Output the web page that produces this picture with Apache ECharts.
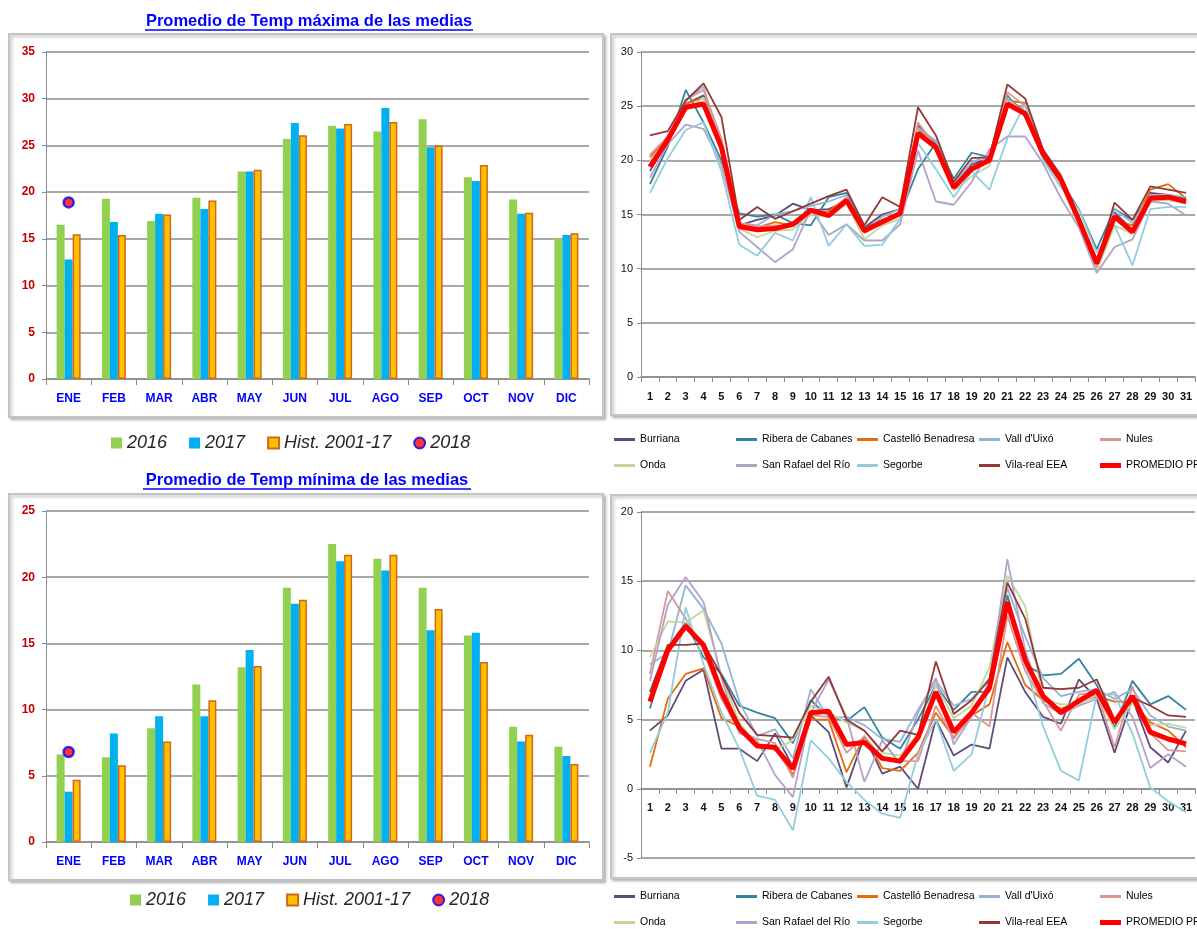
<!DOCTYPE html>
<html><head><meta charset="utf-8">
<script src="https://cdn.jsdelivr.net/npm/echarts@6/dist/echarts.min.js"></script>
<style>html,body{margin:0;padding:0;background:#fff}#c{width:1197px;height:929px}</style>
</head><body><div id="c"></div>
<script>
// ---- Monthly bar charts ----
const months = ['ENE','FEB','MAR','ABR','MAY','JUN','JUL','AGO','SEP','OCT','NOV','DIC'];
const maxT2016 = [16.5,19.3,16.9,19.4,22.2,25.7,27.1,26.5,27.8,21.6,19.2,15.0];
const maxT2017 = [12.8,16.8,17.7,18.2,22.2,27.4,26.8,29.0,24.8,21.2,17.7,15.4];
const maxHist  = [15.5,15.4,17.6,19.1,22.4,26.1,27.3,27.5,25.0,22.9,17.8,15.6];
const maxT2018 = [18.9];
const minT2016 = [6.6,6.4,8.6,11.9,13.2,19.2,22.5,21.4,19.2,15.6,8.7,7.2];
const minT2017 = [3.8,8.2,9.5,9.5,14.5,18.0,21.2,20.5,16.0,15.8,7.6,6.5];
const minHist  = [4.7,5.8,7.6,10.7,13.3,18.3,21.7,21.7,17.6,13.6,8.1,5.9];
const minT2018 = [6.8];

// ---- Daily line charts ----
const days = ['1','2','3','4','5','6','7','8','9','10','11','12','13','14','15','16','17','18','19','20','21','22','23','24','25','26','27','28','29','30','31'];
const stationNames = ['Burriana','Ribera de Cabanes','Castelló Benadresa',"Vall d'Uixó",'Nules','Onda','San Rafael del Río','Segorbe','Vila-real EEA','PROMEDIO PR.'];

const maxBurriana = [19.0,21.8,25.2,26.0,21.5,14.0,14.5,14.9,16.0,15.4,15.5,16.2,13.8,15.0,15.5,23.2,21.5,17.6,19.6,20.2,25.7,24.5,20.6,18.2,14.5,10.2,15.2,13.6,17.0,16.8,16.5];
const maxRibera   = [17.8,21.3,26.5,23.5,20.0,15.1,14.8,15.0,14.2,14.0,16.6,17.0,13.8,14.5,15.0,19.2,21.6,18.3,20.7,20.3,26.0,24.0,20.2,18.0,15.5,11.8,15.5,14.5,16.8,16.6,16.0];
const maxCastello = [20.3,22.0,25.2,25.8,21.5,14.0,13.8,14.3,14.0,15.2,15.3,16.5,13.3,14.5,15.2,23.0,21.0,17.5,19.3,20.0,25.5,25.3,20.5,18.0,14.5,10.3,14.5,14.0,17.3,17.8,16.5];
const maxVall     = [19.5,22.0,25.5,26.8,21.0,14.2,14.0,15.0,15.3,15.8,16.2,16.8,13.5,14.8,15.5,23.0,21.8,17.8,19.8,20.5,25.8,24.2,20.3,17.8,14.2,10.0,15.5,14.2,16.8,16.8,16.6];
const maxNules    = [20.5,22.2,25.6,26.5,22.0,14.2,13.9,14.0,13.9,15.3,15.0,16.6,13.5,14.4,15.0,23.5,21.3,17.3,19.0,20.1,26.3,25.0,20.7,18.1,14.3,10.0,15.0,13.5,16.7,16.7,16.3];
const maxOnda     = [20.0,21.9,24.6,25.8,21.3,13.7,12.9,13.5,13.6,15.0,14.8,16.0,12.7,14.0,14.6,22.8,21.0,17.2,18.5,19.5,25.5,24.5,20.5,17.8,14.0,9.8,14.0,13.2,16.3,16.3,16.0];
const maxSanRafael= [18.4,21.5,23.3,22.9,19.6,13.4,12.0,10.6,11.8,15.5,13.1,14.1,12.6,12.6,14.1,20.9,16.2,15.9,18.0,21.0,22.2,22.2,19.7,16.5,13.8,9.6,12.0,12.7,16.2,16.0,14.9];
const maxSegorbe  = [17.0,20.2,22.8,23.5,19.0,12.2,11.2,13.3,12.6,16.6,12.1,14.1,12.1,12.2,14.6,21.6,19.2,16.6,19.0,17.3,22.0,25.2,20.0,17.5,15.5,11.5,14.0,10.3,15.5,15.7,15.7];
const maxVilareal = [22.3,22.7,25.5,27.1,24.0,14.5,15.7,14.6,15.3,16.0,16.7,17.3,14.0,16.6,15.7,24.9,22.3,18.0,20.2,20.3,27.0,25.7,21.0,18.6,14.8,10.5,16.1,14.5,17.6,17.3,17.0];
const maxPromedio = [19.4,21.9,24.9,25.2,21.2,13.9,13.6,13.7,14.1,15.4,14.9,16.3,13.5,14.3,15.1,22.5,21.2,17.5,19.2,20.0,25.2,24.3,20.6,18.2,14.5,10.5,14.8,13.4,16.5,16.6,16.2];

const minBurriana = [4.2,5.3,7.8,8.6,2.9,2.9,2.0,4.0,1.6,5.3,4.1,0.1,3.8,1.1,1.6,0.0,5.0,2.4,3.2,2.9,9.5,7.0,5.2,4.7,7.9,6.5,2.6,6.5,3.0,1.9,4.2];
const minRibera   = [5.8,10.2,12.0,9.5,8.3,6.0,5.5,5.1,3.3,6.4,5.2,4.9,5.9,3.7,2.9,5.0,7.5,5.7,7.0,7.0,14.0,9.0,8.2,8.3,9.4,7.5,4.4,7.8,6.1,6.7,5.7];
const minCastello = [1.6,6.5,8.3,8.7,5.1,4.5,3.2,3.0,1.0,5.0,5.0,1.2,3.8,1.5,1.3,2.6,5.5,3.7,5.3,6.1,10.6,7.5,6.4,5.8,6.2,6.7,6.3,6.3,4.8,4.2,3.0];
const minVall     = [9.0,9.8,14.7,13.0,10.5,6.3,3.8,4.3,2.2,7.2,5.1,5.2,4.6,3.6,3.4,5.7,7.8,6.0,6.5,8.0,14.5,11.0,8.0,6.7,7.0,7.2,6.5,7.2,5.3,4.5,4.2];
const minNules    = [8.3,14.3,12.3,10.0,6.5,4.2,3.6,3.3,0.8,5.3,5.2,2.6,3.8,2.2,2.0,2.0,6.0,3.6,5.5,4.5,12.5,8.5,6.3,4.2,6.8,7.0,3.0,7.4,4.0,2.8,2.7];
const minOnda     = [9.5,12.1,12.0,12.9,8.2,4.8,3.1,2.8,3.5,6.0,5.5,4.8,4.2,2.6,2.4,4.0,7.5,5.1,6.0,8.8,15.4,13.2,6.5,6.1,6.1,6.8,4.3,6.2,4.6,4.7,4.4];
const minSanRafael= [7.8,13.3,15.3,13.5,8.0,4.0,3.5,1.0,-0.6,5.5,7.9,5.2,0.5,3.5,1.8,5.5,8.0,3.2,5.2,7.8,16.6,10.0,6.2,5.4,6.0,6.5,7.0,5.2,1.5,2.5,1.6];
const minSegorbe  = [2.6,5.5,13.1,9.0,5.5,2.9,-0.5,-0.8,-3.0,3.5,2.2,0.5,-0.8,-1.8,-2.1,2.5,5.0,1.3,2.5,7.5,13.0,9.0,4.5,1.3,0.6,6.8,6.8,4.0,0.1,-0.9,-1.7];
const minVilareal = [7.0,10.4,10.4,10.5,8.2,5.5,3.9,3.8,3.7,6.3,8.1,5.0,4.2,2.7,4.2,3.9,9.2,5.4,6.4,7.9,14.9,12.3,7.3,7.2,7.3,7.9,5.0,6.6,6.0,5.3,5.2];
const minPromedio = [6.3,10.0,11.75,10.4,7.0,4.4,3.1,3.0,1.45,5.5,5.6,3.2,3.35,2.2,2.0,3.7,7.0,4.1,5.5,7.3,13.5,9.3,6.7,5.5,6.35,7.1,4.8,6.7,4.1,3.6,3.25];

const maxStations = [maxBurriana,maxRibera,maxCastello,maxVall,maxNules,maxOnda,maxSanRafael,maxSegorbe,maxVilareal,maxPromedio];
const minStations = [minBurriana,minRibera,minCastello,minVall,minNules,minOnda,minSanRafael,minSegorbe,minVilareal,minPromedio];
const stationColors = ['#604A7B','#31859C','#E46C0A','#95B3D7','#D99694','#C3D69B','#B3A2C7','#93CDDD','#953735','#FF0000'];

const FONT = "'Liberation Sans',Arial,sans-serif";
const gridColor = '#A8A8A8';

function barXAxis(gi){
  return {type:'category', gridIndex:gi, data:months,
    axisLine:{lineStyle:{color:'#8C8C8C',width:1.5}},
    axisTick:{show:true,length:6,lineStyle:{color:'#8C8C8C'}},
    axisLabel:{color:'#0000FF',fontWeight:'bold',fontSize:12,fontFamily:FONT,margin:14}};
}
function barYAxis(gi,max){
  return {type:'value', gridIndex:gi, min:0, max:max, interval:5,
    axisLine:{show:true,lineStyle:{color:'#8C8C8C',width:1}},
    axisTick:{show:true,length:4,lineStyle:{color:'#8C8C8C'}},
    splitLine:{lineStyle:{color:gridColor,width:2}},
    axisLabel:{color:'#C00000',fontWeight:'bold',fontSize:12,fontFamily:FONT,margin:11}};
}
function lineXAxis(gi, offset){
  return {type:'category', gridIndex:gi, data:days, offset:offset,
    axisLine:{onZero:false,lineStyle:{color:'#8C8C8C',width:1.5}},
    axisTick:{show:true,length:5,lineStyle:{color:'#8C8C8C'}},
    axisLabel:{color:'#111',fontSize:11,fontWeight:'bold',fontFamily:FONT,margin:14,interval:0}};
}
function lineYAxis(gi,min,max){
  return {type:'value', gridIndex:gi, min:min, max:max, interval:5,
    axisLine:{show:true,lineStyle:{color:'#8C8C8C',width:1}},
    axisTick:{show:true,length:4,lineStyle:{color:'#8C8C8C'}},
    splitLine:{lineStyle:{color:gridColor,width:2}},
    axisLabel:{color:'#111',fontSize:11,fontFamily:FONT,margin:8}};
}

const series = [];
function addBars(gi, a2016, a2017, hist, a2018){
  series.push({name:'2016',type:'bar',xAxisIndex:gi,yAxisIndex:gi,data:a2016,barWidth:8,barGap:'0%',itemStyle:{color:'#92D050'}});
  series.push({name:'2017',type:'bar',xAxisIndex:gi,yAxisIndex:gi,data:a2017,barWidth:8,barGap:'0%',itemStyle:{color:'#00B0F0'}});
  series.push({name:'Hist. 2001-17',type:'bar',xAxisIndex:gi,yAxisIndex:gi,data:hist,barWidth:8,barGap:'0%',itemStyle:{color:'#FFC000',borderColor:'#D4661A',borderWidth:1.5}});
  series.push({name:'2018',type:'scatter',xAxisIndex:gi,yAxisIndex:gi,data:a2018,symbol:'circle',symbolSize:10,z:5,itemStyle:{color:'#FF0000',borderColor:'#0000FF',borderWidth:2.5}});
}
function addLines(gi, arrs){
  arrs.forEach((arr,i)=>{
    const isAvg = i===arrs.length-1;
    series.push({name:stationNames[i],type:'line',xAxisIndex:gi,yAxisIndex:gi,data:arr,symbol:'none',
      z: isAvg?4:2,
      lineStyle:{color:stationColors[i],width:isAvg?5:1.8},itemStyle:{color:stationColors[i]}});
  });
}
addBars(0,maxT2016,maxT2017,maxHist,maxT2018);
addLines(1,maxStations);
addBars(2,minT2016,minT2017,minHist,minT2018);
addLines(3,minStations);

const legends = [];
function barLegend(left, top){
  legends.push({left:left, top:top, padding:0, itemWidth:11, itemHeight:11, itemGap:22, selectedMode:false,
    data:[{name:'2016',icon:'rect'},{name:'2017',icon:'rect'},{name:'Hist. 2001-17',icon:'rect'},{name:'2018',icon:'circle'}],
    textStyle:{fontSize:18,fontStyle:'italic',color:'#262626',fontFamily:"'Liberation Sans',Arial,sans-serif"}});
}
barLegend(111, 434);
barLegend(130, 891);
const legCols = [614, 736, 857, 979, 1100];
function lineLegend(row1, row2){
  stationNames.forEach((n,i)=>{
    const col = i%5, row = Math.floor(i/5);
    const isAvg = i===stationNames.length-1;
    legends.push({left:legCols[col], top:(row===0?row1:row2)-6, padding:0, itemWidth:21, itemHeight:isAvg?5:3, selectedMode:false,
      icon:'rect', data:[n], textStyle:{fontSize:10.5,color:'#000',fontFamily:FONT}});
  });
}
lineLegend(440, 466);
lineLegend(897, 923);

function panel(x,y,w,h){
  return {type:'rect',z:-10,shape:{x:x,y:y,width:w,height:h},
    style:{fill:'#fff',stroke:'#C4C4C4',lineWidth:2,shadowBlur:3,shadowColor:'rgba(0,0,0,0.25)',shadowOffsetX:2,shadowOffsetY:2}};
}
function titleText(text,cx,cy,x1,x2,uy){
  return [
    {type:'text',z:10,x:cx,y:cy,style:{text:text,fill:'#0000FF',font:"bold 16.5px 'Liberation Sans',Arial,sans-serif",align:'center',verticalAlign:'middle'}},
    {type:'line',z:10,shape:{x1:x1,y1:uy,x2:x2,y2:uy},style:{stroke:'#0000FF',lineWidth:1.5}}
  ];
}

const chart = echarts.init(document.getElementById('c'),null,{renderer:'canvas'});
chart.setOption({
  animation:false,
  backgroundColor:'#fff',
  grid:[
    {left:46,top:52,width:543,height:327},
    {left:641,top:52,width:554,height:325},
    {left:46,top:511,width:543,height:331},
    {left:641,top:512,width:554,height:346}
  ],
  xAxis:[barXAxis(0),lineXAxis(1,0),barXAxis(2),lineXAxis(3,-346/25*5)],
  yAxis:[barYAxis(0,35),lineYAxis(1,0,30),barYAxis(2,25),lineYAxis(3,-5,20)],
  legend:legends,
  series:series,
  graphic:[
    panel(9,34,594,383),
    panel(611,34,600,381),
    panel(9,494,594,386),
    panel(611,495,600,383),
    ...titleText('Promedio de Temp máxima de las medias',309,21,145,473,30),
    ...titleText('Promedio de Temp mínima de las medias',307,480,143,471,489)
  ]
});
</script>
</body></html>
